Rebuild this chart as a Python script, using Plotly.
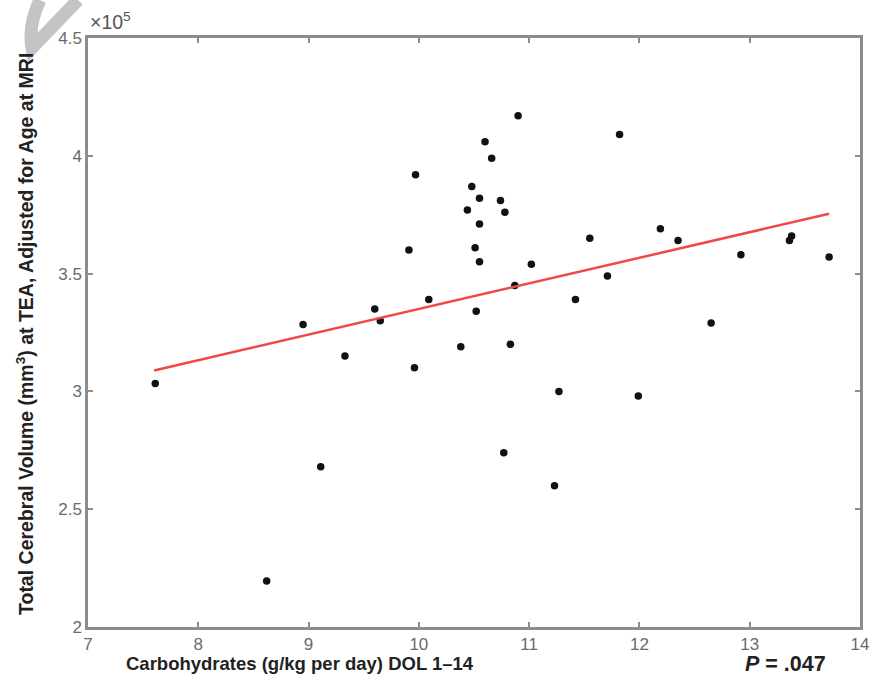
import plotly.graph_objects as go

# Data (x: g/kg per day, y: mm^3)
carbs = [7.61, 8.62, 8.95, 9.11, 9.33, 9.60, 9.65, 9.91, 9.97, 9.96,
         10.09, 10.38, 10.44, 10.48, 10.52, 10.51, 10.55, 10.55, 10.55, 10.60,
         10.66, 10.74, 10.78, 10.77, 10.83, 10.87, 10.90, 11.02, 11.42, 11.27,
         11.23, 11.55, 11.71, 11.82, 11.99, 12.19, 12.35, 12.65, 12.92, 13.36,
         13.38, 13.72]
volume_e5 = [3.034, 2.195, 3.284, 2.68, 3.15, 3.35, 3.30, 3.60, 3.92, 3.10,
             3.39, 3.19, 3.77, 3.87, 3.34, 3.61, 3.82, 3.71, 3.55, 4.06,
             3.99, 3.81, 3.76, 2.74, 3.20, 3.45, 4.17, 3.54, 3.39, 3.00,
             2.60, 3.65, 3.49, 4.09, 2.98, 3.69, 3.64, 3.29, 3.58, 3.64,
             3.66, 3.57]
volume = [v * 1e5 for v in volume_e5]

fit_x = [7.6, 13.72]
fit_y = [3.089e5, 3.754e5]

x_ticks = [7, 8, 9, 10, 11, 12, 13, 14]
y_ticks = [2.0e5, 2.5e5, 3.0e5, 3.5e5, 4.0e5, 4.5e5]
y_ticktext = ["2", "2.5", "3", "3.5", "4", "4.5"]

L, R, T, B = 88, 20, 38, 55
W, H = 880, 682
pw, ph = W - L - R, H - T - B

def px(x):
    return (x - L) / pw

def py(y):
    return (H - B - y) / ph

fig = go.Figure()
fig.add_trace(go.Scatter(x=carbs, y=volume, mode="markers",
                         marker=dict(color="#111111", size=7.5),
                         showlegend=False, hoverinfo="x+y"))
fig.add_trace(go.Scatter(x=fit_x, y=fit_y, mode="lines",
                         line=dict(color="#f04848", width=2.5),
                         showlegend=False, hoverinfo="skip"))

axis_common = dict(showgrid=False, zeroline=False, showline=True,
                   linecolor="#8c8c8c", linewidth=2.5, mirror="ticks",
                   ticks="inside", ticklen=5, tickcolor="#8c8c8c", tickwidth=1.5,
                   tickfont=dict(family="Liberation Sans, Arial", size=17, color="#6a6a6a"))

fig.update_xaxes(range=[7, 14], tickvals=x_ticks, **axis_common)
fig.update_yaxes(range=[2e5, 4.5e5], tickvals=y_ticks, ticktext=y_ticktext, **axis_common)

fig.update_layout(
    width=W, height=H,
    margin=dict(l=L, r=R, t=T, b=B, pad=0),
    plot_bgcolor="white", paper_bgcolor="white",
    font=dict(family="Liberation Sans, Arial"),
    annotations=[
        dict(text="×10<sup>5</sup>", xref="paper", yref="paper", x=0, y=1,
             xanchor="left", yanchor="bottom", showarrow=False, yshift=3,
             font=dict(size=19.5, color="#555555")),
        dict(text="<b>Carbohydrates (g/kg per day) DOL 1–14</b>", xref="paper", yref="paper",
             x=px(124), y=py(663), xanchor="left", yanchor="middle", showarrow=False,
             font=dict(size=18.5, color="#222222")),
        dict(text="<b><i>P</i> = .047</b>", xref="paper", yref="paper",
             x=px(743), y=py(664), xanchor="left", yanchor="middle", showarrow=False,
             font=dict(size=21.5, color="#222222")),
        dict(text="<b>Total Cerebral Volume (mm<sup>3</sup>) at TEA, Adjusted for Age at MRI</b>",
             xref="paper", yref="paper", x=px(25), y=py(334), xanchor="center", yanchor="middle",
             textangle=-90, showarrow=False,
             font=dict(size=19.5, color="#222222")),
    ],
    shapes=[
        dict(type="path", xref="paper", yref="paper",
             path=f"M {px(40)} {py(0)} Q {px(28)} {py(25)} {px(32)} {py(48)} L {px(78)} {py(0)}",
             line=dict(color="rgba(190,190,190,0.9)", width=13), layer="above"),
    ],
)

fig.write_html("out.html")
